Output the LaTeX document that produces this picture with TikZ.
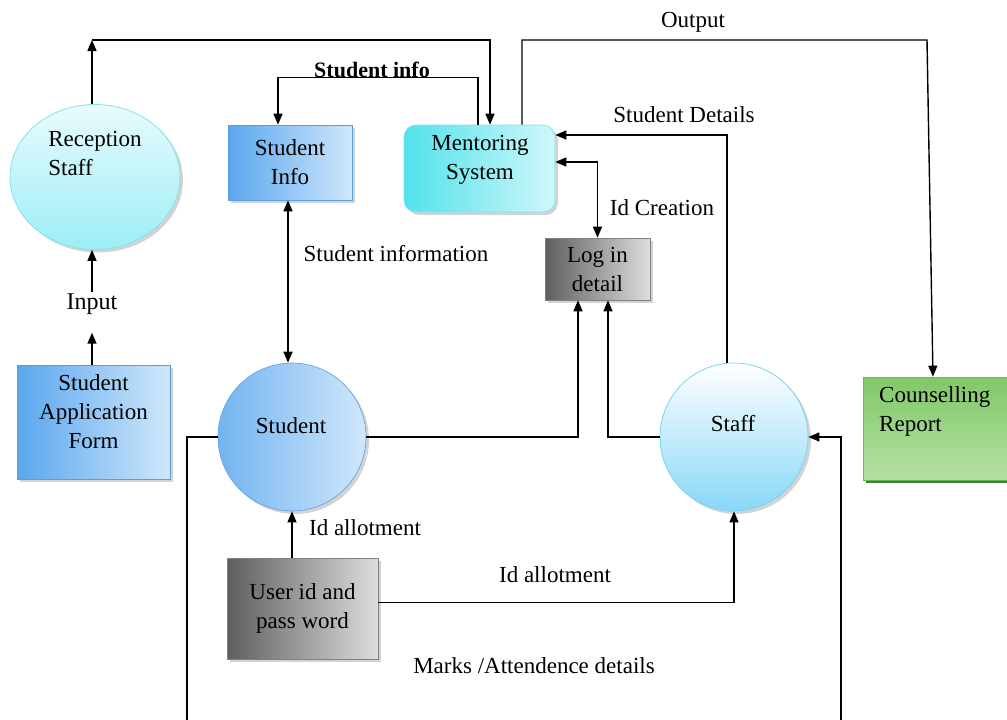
\documentclass[tikz,border=0pt]{standalone}
\usepackage{fontspec}
\setmainfont{Liberation Serif}
\usetikzlibrary{arrows.meta,shadows,calc,shapes.geometric}
\definecolor{recTop}{HTML}{E8FBFD}
\definecolor{recBot}{HTML}{9CEEF6}
\definecolor{recBrd}{HTML}{80E4EE}
\definecolor{blueL}{HTML}{5AA6EE}
\definecolor{blueR}{HTML}{D0E7FB}
\definecolor{blueBrd}{HTML}{5A9EE0}
\definecolor{cyanL}{HTML}{52E2EC}
\definecolor{cyanR}{HTML}{CFF7FA}
\definecolor{staffBot}{HTML}{88D8F8}
\definecolor{staffBrd}{HTML}{78D4F0}
\definecolor{grayL}{HTML}{5E5E5E}
\definecolor{grayR}{HTML}{DEDEDE}
\definecolor{greenT}{HTML}{80C868}
\definecolor{greenB}{HTML}{B6E0A4}
\definecolor{greenBrd}{HTML}{6CB852}
\begin{document}
\begin{tikzpicture}[x=1pt,y=-1pt,
  font=\fontsize{23}{29}\selectfont,
  arr/.style={-{Triangle[length=11pt,width=9pt]}, line width=1.4pt},
  darr/.style={{Triangle[length=11pt,width=9pt]}-{Triangle[length=11pt,width=9pt]}, line width=1.4pt},
  lbl/.style={inner sep=1pt},
  shd/.style={drop shadow={opacity=0.35, shadow xshift=3pt, shadow yshift=-3pt}},
  bluebox/.style={rectangle, draw=blueBrd, line width=0.6pt, left color=blueL, right color=blueR, align=center, shd},
  graybox/.style={rectangle, draw=gray, line width=0.6pt, left color=grayL, right color=grayR, align=center, shd}
]
\useasboundingbox (0,0) rectangle (1007,720);
\clip (0,0) rectangle (1007,720);

% nodes
\node[ellipse, draw=recBrd, line width=0.8pt, top color=recTop, bottom color=recBot,
      minimum width=170pt, minimum height=145pt, shd] (rec) at (95,177) {};
\node[align=left, lbl] (rectext) at (95,153) {Reception\\Staff};

\node[bluebox, minimum width=124pt, minimum height=75pt] (sinfo) at (290,162.5) {Student\\Info};

\node[rectangle, rounded corners=12pt, draw=recBrd, line width=0.6pt, left color=cyanL, right color=cyanR,
      minimum width=151pt, minimum height=87pt, align=center, shd] (ment) at (479.5,168.5) {};
\node[align=center, lbl] (menttext) at (480,160) {Mentoring\\System};

\node[graybox, minimum width=105pt, minimum height=62pt] (login) at (597.5,269) {Log in\\detail};

\node[bluebox, minimum width=153pt, minimum height=114pt] (form) at (93.5,422) {};
\node[align=center, lbl] (formtext) at (93.5,412) {Student\\Application\\Form};

\node[circle, draw=blueBrd, line width=0.6pt, left color=blueL!85, right color=blueR,
      minimum size=148pt, shd] (student) at (292,437) {};
\node[lbl] (studenttext) at (291,426) {Student};

\node[circle, draw=staffBrd, line width=0.8pt, top color=white, bottom color=staffBot,
      minimum size=148pt, shd] (staff) at (734,437) {};
\node[lbl] (stafftext) at (733,424) {Staff};

\node[rectangle, draw=greenBrd, line width=0.6pt, top color=greenT, bottom color=greenB,
      minimum width=144pt, minimum height=103pt,
      drop shadow={opacity=0.8, fill=green!40!black, shadow xshift=3pt, shadow yshift=-3pt}] (couns) at (935,428.5) {};
\node[align=left, anchor=north west, lbl] (counstext) at (878,385) {Counselling\\Report};

\node[graybox, minimum width=151pt, minimum height=101pt] (user) at (302.5,608.5) {User id and\\pass word};

% labels
\node[lbl, font=\fontsize{22}{26}\selectfont\bfseries] (l1) at (372,70) {Student info};
\node[lbl] (l2) at (693,22) {Output};
\node[lbl] (l3) at (684,115) {Student Details};
\node[lbl] (l4) at (662,208) {Id Creation};
\node[lbl] (l5) at (396,254) {Student information};
\node[lbl, font=\fontsize{24}{28}\selectfont] (input) at (92,304) {Input};
\node[lbl] (l6) at (365,528) {Id allotment};
\node[lbl] (l7) at (555,575) {Id allotment};
\node[lbl] (l8) at (534,666) {Marks /Attendence details};

% coordinates
\coordinate (c1) at (92,40);
\coordinate (o1) at (522,40);
\coordinate (o2) at (927,40);
\coordinate (b1) at (187,740);
\coordinate (b2) at (841,740);
\coordinate (si) at (288,200);

% connectors
\draw[arr] (c1 |- rec.north) -- (c1);
\draw[arr] (c1) -| ($(ment.north)+(10.5,0)$);
\draw[arr] ($(ment.north)+(-1.5,0)$) -- ++(0,-47) -| ($(sinfo.north)+(-12,0)$);
\draw[arr] ($(ment.north)+(42.5,0)$) -- (o1) -- (o2) -- ($(couns.north)+(-2,0)$);
\draw[arr] ($(staff.north)+(-7,0)$) |- ($(ment.east)+(0,-33.5)$);
\draw[darr] ($(ment.east)+(0,-6.5)$) -| (login.north);
\draw[darr] (si |- sinfo.south) -- (si |- student.north);
\draw[arr] (form.north -| c1) -- ++(0,-32);
\draw[arr] (input.north -| c1) -- (c1 |- rec.south);
\draw[arr] (student.east) -| ($(login.south)+(-19.5,0)$);
\draw[arr] (staff.west) -| ($(login.south)+(10.5,0)$);
\draw[arr] (user.north -| student.south) -- (student.south);
\draw[arr] ($(user.east)+(0,-6)$) -| (staff.south);
\draw[arr] (student.west) -| (b1) -- (b2) |- (staff.east);
\end{tikzpicture}
\end{document}
